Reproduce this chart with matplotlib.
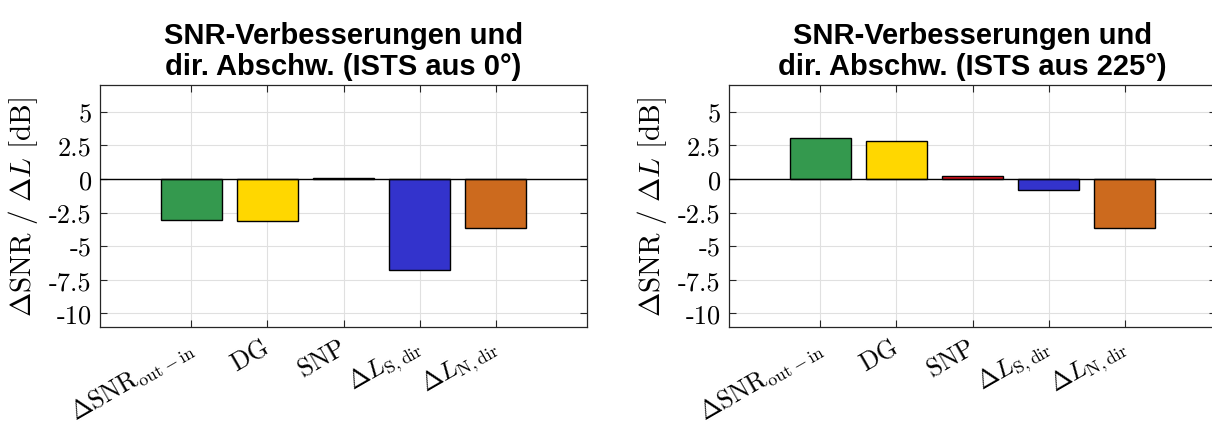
import matplotlib
matplotlib.use("Agg")
import matplotlib.pyplot as plt
from matplotlib.ticker import FixedLocator, FixedFormatter

plt.rcParams["mathtext.fontset"] = "cm"
plt.rcParams["axes.unicode_minus"] = False

# Measures shown on the x axis
categories = [
    r"$\Delta\mathrm{SNR}_{\mathrm{out}-\mathrm{in}}$",
    r"$\mathrm{DG}$",
    r"$\mathrm{SNP}$",
    r"$\Delta L_{\mathrm{S,dir}}$",
    r"$\Delta L_{\mathrm{N,dir}}$",
]

# Improvements / attenuation in dB for ISTS from 0° and from 225°
values_0deg = [-3.08, -3.15, 0.04, -6.75, -3.65]
values_225deg = [3.03, 2.83, 0.20, -0.84, -3.67]

titles = [
    "SNR-Verbesserungen und\ndir. Abschw. (ISTS aus 0°)",
    "SNR-Verbesserungen und\ndir. Abschw. (ISTS aus 225°)",
]

bar_colors = ["#34994e", "#ffd700", "#e8141e", "#3333cc", "#cc6a1e"]

y_ticks = [5, 2.5, 0, -2.5, -5, -7.5, -10]
y_tick_labels = ["5", "2.5", "0", "-2.5", "-5", "-7.5", "-10"]

fig = plt.figure(figsize=(12.12, 4.27), dpi=100)

W, H = 1212, 427
ax_w = 487 / W
ax_y0 = 1 - 327.7 / H
ax_h = (327.7 - 86) / H
lefts = [100 / W, 729 / W]

spine_col = "#262626"

for left, vals, title in zip(lefts, [values_0deg, values_225deg], titles):
    ax = fig.add_axes([left, ax_y0, ax_w, ax_h])
    x = list(range(1, len(vals) + 1))
    ax.bar(x, vals, width=0.8, color=bar_colors, edgecolor="black",
           linewidth=1.0, zorder=3)
    ax.axhline(0, color="black", linewidth=1.0, zorder=4)

    ax.set_xlim(-0.2, 6.2)
    ax.set_ylim(-11, 7)

    ax.yaxis.set_major_locator(FixedLocator(y_ticks))
    ax.yaxis.set_major_formatter(FixedFormatter(y_tick_labels))
    ax.set_xticks(x)
    ax.set_xticklabels(categories, rotation=30, ha="right", va="center",
                       rotation_mode="anchor", fontsize=18.5)
    for lbl in ax.get_yticklabels():
        lbl.set_fontfamily("cmr10")
        lbl.set_fontsize(19)

    ax.tick_params(axis="both", direction="in", length=5, width=0.8,
                   color=spine_col, top=True, right=True)
    ax.tick_params(axis="y", pad=6)
    ax.tick_params(axis="x", pad=13)

    ax.grid(True, color="#e0e0e0", linewidth=0.8, zorder=0)
    ax.set_axisbelow(True)
    for s in ax.spines.values():
        s.set_color(spine_col)
        s.set_linewidth(0.9)

    ax.set_ylabel(r"$\Delta\mathrm{SNR}\ /\ \Delta L\ [\mathrm{dB}]$", fontsize=21)
    ax.yaxis.set_label_coords(-0.123, 0.5)

    ax.set_title(title, fontsize=21, fontweight="bold",
                 fontfamily="Liberation Sans", pad=8, linespacing=1.12)

fig.savefig("out.png", dpi=100)
